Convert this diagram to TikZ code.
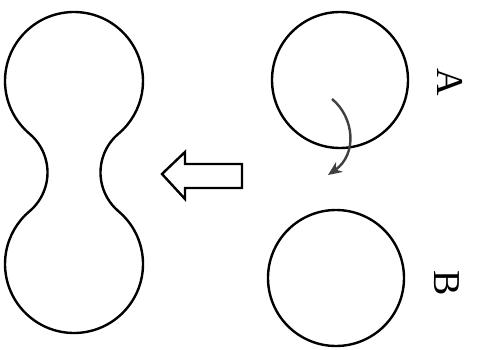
\documentclass[tikz,border=0pt]{standalone}
\usepackage{fontspec}
\setmainfont{Liberation Serif}
\usetikzlibrary{arrows.meta}
\begin{document}
\begin{tikzpicture}[x=.5pt,y=.5pt,line width=1.2pt,
 ball/.style={circle,draw,minimum size=68pt,inner sep=0pt},
 lbl/.style={rotate=-90,font=\fontsize{19}{19}\selectfont}]
 \useasboundingbox (0,0) rectangle (477,349);
 \node[ball] (ballA) at (340,269) {};
 \node[ball] (ballB) at (336,71) {};
 \node[lbl] (labA) at (450,267) {A};
 \node[lbl] (labB) at (447,66) {B};
 \coordinate (spinS) at (332,250);
 \coordinate (spinE) at (328,174);
 \draw[black!75,-{Stealth[length=7pt,width=6pt]}] (spinS)
 .. controls (354,232) and (358,195) .. (spinE);
 % block arrow
 \draw (242,161) -- (185,161) -- (185,150) -- (162,175) -- (185,197)
 -- (185,185) -- (242,185) -- cycle;
 % merged drop
 \draw (74,268) ++(229.83:69) arc[start angle=229.83,end angle=-49.83,radius=69]
 arc[start angle=130.17,end angle=229.83,radius=50.75]
 arc[start angle=49.83,end angle=-229.83,radius=69]
 arc[start angle=-49.83,end angle=49.83,radius=50.75] -- cycle;
\end{tikzpicture}
\end{document}
